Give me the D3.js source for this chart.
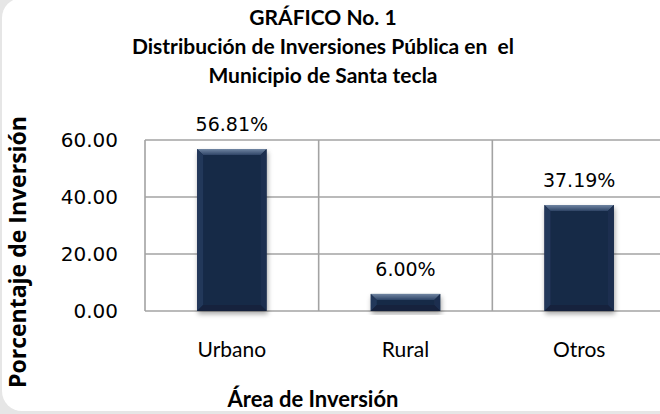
<!DOCTYPE html>
<head>
  <meta charset="utf-8">
  <style>
    body { margin: 0; background: #fff; }
    svg { display: block; }
    text { white-space: pre; }
  </style>
  <script src="https://cdn.jsdelivr.net/npm/d3@7"></script>
</head>
<body>
<svg id=chart width="660" height="414"></svg>
<script>
const categories = ['Urbano', 'Rural', 'Otros']
const values = [56.81, 6.00, 37.19]
const value_labels = ['56.81%', '6.00%', '37.19%']
const y_ticks = [0, 20, 40, 60]
const title_lines = ['GRÁFICO No. 1', 'Distribución de Inversiones Pública en  el', 'Municipio de Santa tecla']

const svg = d3.select('#chart')
const W = 660, H = 414
const plot = { left: 145, right: 666, top: 140, bottom: 311 }
const title_font = 'Lato, sans-serif'
const num_font = '"DejaVu Sans", sans-serif'

// card background
svg.append('rect').attr('width', W).attr('height', H).attr('fill', '#e6e6e6')
svg.append('rect').attr('x', 2).attr('y', -2).attr('width', W + 40).attr('height', H - 1)
  .attr('rx', 20).attr('fill', '#fff')

const defs = svg.append('defs')
const shadow = defs.append('filter').attr('id', 'shadow')
  .attr('x', '-20%').attr('y', '-10%').attr('width', '140%').attr('height', '130%')
shadow.append('feDropShadow').attr('dx', 1).attr('dy', 3).attr('stdDeviation', 2.5)
  .attr('flood-color', '#000').attr('flood-opacity', 0.35)
const top_grad = defs.append('linearGradient').attr('id', 'topgrad')
  .attr('x1', 0).attr('y1', 0).attr('x2', 0).attr('y2', 1)
top_grad.append('stop').attr('offset', 0).attr('stop-color', '#7085a2')
top_grad.append('stop').attr('offset', 1).attr('stop-color', '#2e4466')

const x = d3.scaleBand().domain(categories).range([plot.left, plot.right]).paddingInner(0)
const y = d3.scaleLinear().domain([0, 60]).range([plot.bottom, plot.top])

// grid
const grid = svg.append('g').attr('stroke', '#a3a3a3').attr('stroke-width', 1.6)
grid.selectAll('line.h').data(y_ticks).join('line').attr('class', 'h')
  .attr('x1', plot.left).attr('x2', plot.right)
  .attr('y1', d => y(d)).attr('y2', d => y(d))
const bounds = categories.map(c => x(c)).concat([x(categories[2]) + x.bandwidth()])
grid.selectAll('line.v').data(bounds).join('line').attr('class', 'v')
  .attr('x1', d => d).attr('x2', d => d)
  .attr('y1', plot.top).attr('y2', plot.bottom)

// y tick labels
svg.append('g').selectAll('text').data(y_ticks).join('text')
  .attr('x', 118).attr('y', d => y(d)).attr('dy', '0.35em')
  .attr('text-anchor', 'end').attr('font-family', num_font).attr('font-size', 20)
  .attr('fill', '#000').text(d => d.toFixed(2))

// bars with bevel
const bw = x.bandwidth() * 0.4
const bev = 6
const bars = svg.append('g').selectAll('g').data(values).join('g')
  .attr('filter', 'url(#shadow)')
bars.each(function (v, i) {
  const g = d3.select(this)
  const x0 = x(categories[i]) + (x.bandwidth() - bw) / 2, x1 = x0 + bw
  const y0 = y(v), y1 = y(0)
  const b = Math.min(bev, (y1 - y0) / 2)
  g.append('rect').attr('x', x0).attr('y', y0).attr('width', bw).attr('height', y1 - y0).attr('fill', '#182a47')
  const poly = pts => g.append('polygon').attr('points', pts.map(p => p.join(',')).join(' '))
  poly([[x0, y0], [x1, y0], [x1 - b, y0 + b], [x0 + b, y0 + b]]).attr('fill', 'url(#topgrad)')
  poly([[x0, y0], [x0 + b, y0 + b], [x0 + b, y1 - b], [x0, y1]]).attr('fill', '#22375a')
  poly([[x1, y0], [x1 - b, y0 + b], [x1 - b, y1 - b], [x1, y1]]).attr('fill', '#1c2f4f')
  poly([[x0, y1], [x0 + b, y1 - b], [x1 - b, y1 - b], [x1, y1]]).attr('fill', '#13233d')
})

// value labels
svg.append('g').selectAll('text').data(values).join('text')
  .attr('x', (d, i) => x(categories[i]) + x.bandwidth() / 2)
  .attr('y', d => y(d) - 18)
  .attr('text-anchor', 'middle').attr('font-family', num_font).attr('font-size', 19)
  .text((d, i) => value_labels[i])

// category labels
svg.append('g').selectAll('text').data(categories).join('text')
  .attr('x', d => x(d) + x.bandwidth() / 2).attr('y', 357)
  .attr('text-anchor', 'middle').attr('font-family', title_font).attr('font-size', 21)
  .text(d => d)

// titles
svg.append('g').selectAll('text').data(title_lines).join('text')
  .attr('x', 323).attr('y', (d, i) => 25 + i * 29)
  .attr('text-anchor', 'middle').attr('font-family', title_font)
  .attr('font-weight', 'bold').attr('font-size', 21).text(d => d)

svg.append('text').attr('x', 313).attr('y', 407).attr('text-anchor', 'middle')
  .attr('font-family', title_font).attr('font-weight', 'bold').attr('font-size', 22)
  .text('Área de Inversión')

svg.append('text').attr('transform', 'translate(26,252) rotate(-90)').attr('text-anchor', 'middle')
  .attr('font-family', '"Open Sans", sans-serif').attr('font-weight', 'bold').attr('font-size', 23)
  .text('Porcentaje de Inversión')
</script>
</body>
